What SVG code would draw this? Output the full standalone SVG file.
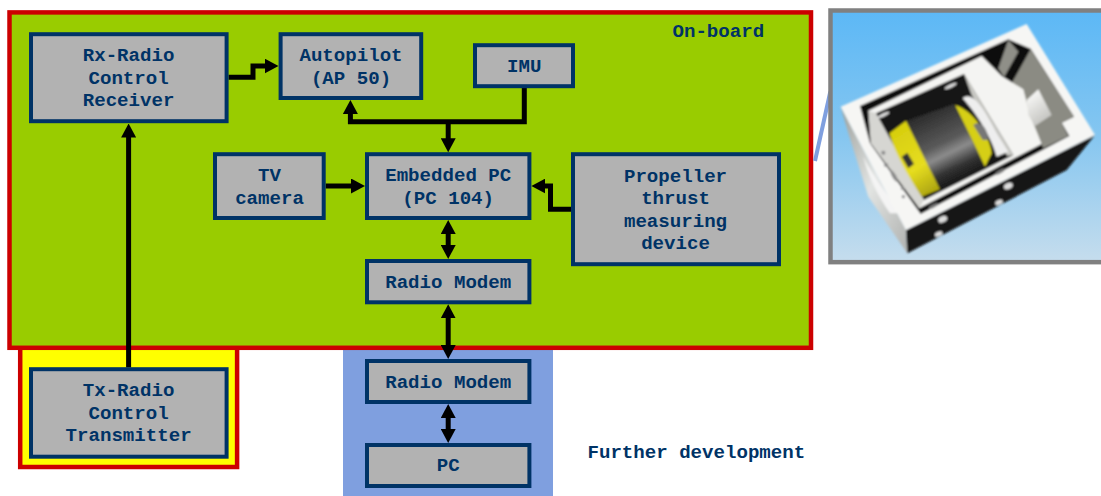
<svg xmlns="http://www.w3.org/2000/svg" width="1101" height="496" viewBox="0 0 1101 496">
<style>
.node{fill:#b2b2b2;stroke:#003366;stroke-width:4}
.zone{stroke:#cc0000;stroke-width:4.5}
.t{font-family:"Liberation Mono","DejaVu Sans Mono",monospace;font-weight:700;font-size:19.1px;fill:#003366;text-anchor:middle}
.l{text-anchor:start}
.c{fill:none;stroke:#000;stroke-width:5}
.hole{fill:#ddd}
</style>
<defs>
<marker id="arrow" markerUnits="userSpaceOnUse" viewBox="0 0 14 15" refX="1" refY="7.5" markerWidth="14" markerHeight="15" orient="auto-start-reverse"><path d="M0 0L14 7.5L0 15z" fill="#000"/></marker>
<linearGradient id="sky" x1="0" y1="0" x2="0" y2="1"><stop offset="0" stop-color="#5cb8f6"/><stop offset=".5" stop-color="#85c6f0"/><stop offset="1" stop-color="#c6dded"/></linearGradient>
<linearGradient id="cyl" gradientUnits="userSpaceOnUse" x1="385" y1="330" x2="490" y2="545"><stop offset="0" stop-color="#2a2a2a"/><stop offset=".45" stop-color="#5a5a5a"/><stop offset=".6" stop-color="#8c8c8c"/><stop offset=".8" stop-color="#333"/><stop offset="1" stop-color="#111"/></linearGradient>
<linearGradient id="yel" gradientUnits="userSpaceOnUse" x1="290" y1="400" x2="400" y2="570"><stop offset="0" stop-color="#d8cf10"/><stop offset=".6" stop-color="#e6dd20"/><stop offset="1" stop-color="#b0a810"/></linearGradient>
<linearGradient id="side" x1="0" y1="0" x2="1" y2="1"><stop offset="0" stop-color="#9a9e9a"/><stop offset=".5" stop-color="#e2e4e2"/><stop offset="1" stop-color="#b0b2b0"/></linearGradient>
<linearGradient id="boss" gradientUnits="userSpaceOnUse" x1="690" y1="290" x2="750" y2="370"><stop offset="0" stop-color="#f4f4f2"/><stop offset="1" stop-color="#bcbcb8"/></linearGradient>
<filter id="soft" x="-5%" y="-5%" width="110%" height="110%"><feGaussianBlur stdDeviation="2.6"/></filter>
<clipPath id="photoClip"><rect x="98" y="38" width="805" height="742"/></clipPath>
</defs>
<rect id="blue-zone" x="343" y="340" width="210" height="156" fill="#7f9fdf"/>
<rect id="yellow-zone" class="zone" x="20.2" y="340" width="216.9" height="127" fill="#ffff00"/>
<rect id="onboard-zone" class="zone" x="9.5" y="12.4" width="801.5" height="335.4" fill="#99cc00"/>
<line id="callout" x1="830.3" y1="91.7" x2="815" y2="161" stroke="#7f9fdf" stroke-width="4"/>
<g id="photo" transform="translate(800 0) scale(.33333)">
<rect x="91.5" y="31.5" width="830" height="755" fill="url(#sky)" stroke="#808080" stroke-width="13.5"/>
<g clip-path="url(#photoClip)"><g filter="url(#soft)">
<path d="M122 320L318 690L322 760L205 590L145 400z" fill="url(#side)"/>
<path d="M190 470C225 540 270 590 300 640L270 640C235 590 205 530 190 470z" fill="#f4f4f4"/>
<path d="M318 690L885 405L800 510L322 760z" fill="#121212"/>
<path d="M122 320L680 72L885 405L318 690z" fill="#f6f6f4"/>
<path d="M180 318L625 118L692 146L822 350L785 368L808 408L362 642L210 430z" fill="#111"/>
<path d="M692 148L822 350L785 368L805 408L730 445L680 340L635 250z" fill="#8b8b83"/>
<path d="M625 120L655 155L612 232L595 205z" fill="#8f8f88"/>
<path d="M205 332L545 168L605 228L670 268L690 345L725 432L358 625z" fill="#f4f4f2"/>
<path d="M205 332L228 340L372 600L358 625L212 430z" fill="#d6d6d2"/>
<path d="M228 340L492 222L640 465L372 600z" fill="#121212"/>
<path d="M492 222L515 285L622 468L640 465z" fill="#c9c9c4"/>
<path d="M488 295C510 275 540 300 590 400L625 455L590 470C570 400 520 330 488 295z" fill="#eee"/>
<path d="M318 362L462 312L555 500L420 570z" fill="url(#cyl)"/>
<path d="M465 315C520 330 570 410 575 460L555 500z" fill="#d6cf15"/>
<path d="M520 375C545 355 565 395 565 420L548 420z" fill="#777"/>
<path d="M268 400L318 362L420 568L365 590C325 530 285 460 268 400z" fill="url(#yel)"/>
<path d="M305 470L322 458L342 492L325 505z" fill="#333"/>
<path d="M680 300L715 268L755 345L705 378L685 345z" fill="url(#boss)"/>
<ellipse class="hole" cx="250" cy="345" rx="20" ry="5" transform="rotate(-25 250 345)"/>
<ellipse class="hole" cx="452" cy="258" rx="20" ry="5" transform="rotate(-25 452 258)"/>
<ellipse cx="250" cy="458" rx="6" ry="6" fill="#888"/>
<ellipse cx="258" cy="495" rx="6" ry="6" fill="#888"/>
<ellipse cx="282" cy="528" rx="6" ry="20" transform="rotate(-30 282 528)" fill="#888"/>
<ellipse cx="308" cy="565" rx="5" ry="5" fill="#888"/>
<ellipse cx="310" cy="590" rx="5" ry="5" fill="#888"/>
<ellipse cx="400" cy="618" rx="16" ry="5" transform="rotate(-28 400 618)" fill="#777"/>
<ellipse cx="600" cy="515" rx="16" ry="5" transform="rotate(-28 600 515)" fill="#777"/>
<ellipse class="hole" cx="428" cy="658" rx="14" ry="9" transform="rotate(-25 428 658)"/>
<ellipse class="hole" cx="416" cy="702" rx="12" ry="7" transform="rotate(-25 416 702)"/>
<ellipse class="hole" cx="625" cy="558" rx="14" ry="9" transform="rotate(-25 625 558)"/>
<ellipse class="hole" cx="597" cy="607" rx="12" ry="7" transform="rotate(-25 597 607)"/>
</g></g>
</g>
<g id="connectors">
<path class="c" marker-end="url(#arrow)" d="M128.6 367.5V136.5"/>
<path class="c" marker-end="url(#arrow)" d="M228.6 77.3H253V66H265.5"/>
<path class="c" marker-end="url(#arrow)" d="M524.3 88V121.7H350.4V113"/>
<path class="c" marker-end="url(#arrow)" d="M448.2 121.7V139.3"/>
<path class="c" marker-end="url(#arrow)" d="M325.7 186H352"/>
<path class="c" marker-end="url(#arrow)" d="M571 209.3H550.5V186H544.4"/>
<path class="c" marker-start="url(#arrow)" marker-end="url(#arrow)" d="M448.2 233V246"/>
<path class="c" marker-start="url(#arrow)" marker-end="url(#arrow)" d="M448.2 317.3V346"/>
<path class="c" marker-start="url(#arrow)" marker-end="url(#arrow)" d="M448.2 417V430"/>
</g>
<g id="rx"><rect class="node" x="31" y="34.2" width="195.6" height="87"/><text class="t" x="128.6" y="61">Rx-Radio</text><text class="t" x="128.6" y="83.5">Control</text><text class="t" x="128.6" y="106">Receiver</text></g>
<g id="autopilot"><rect class="node" x="280.6" y="34.2" width="140.6" height="63.8"/><text class="t" x="351" y="61">Autopilot</text><text class="t" x="351" y="83.5">(AP 50)</text></g>
<g id="imu"><rect class="node" x="475" y="45.2" width="98" height="41"/><text class="t" x="524.3" y="71.5">IMU</text></g>
<g id="tv"><rect class="node" x="215" y="154.2" width="108.7" height="63.8"/><text class="t" x="269.5" y="181">TV</text><text class="t" x="269.5" y="203.5">camera</text></g>
<g id="embedded"><rect class="node" x="367" y="154.2" width="162.4" height="63.8"/><text class="t" x="448.2" y="181">Embedded PC</text><text class="t" x="448.2" y="203.5">(PC 104)</text></g>
<g id="propeller"><rect class="node" x="573" y="154.2" width="206" height="110"/><text class="t" x="675.5" y="181.7">Propeller</text><text class="t" x="675.5" y="203.5">thrust</text><text class="t" x="675.5" y="226.5">measuring</text><text class="t" x="675.5" y="249">device</text></g>
<g id="modem1"><rect class="node" x="367" y="261" width="162.4" height="41.3"/><text class="t" x="448.2" y="287.7">Radio Modem</text></g>
<g id="modem2"><rect class="node" x="367" y="361" width="162.4" height="41"/><text class="t" x="448.2" y="387.7">Radio Modem</text></g>
<g id="pc"><rect class="node" x="367" y="445" width="162.4" height="41"/><text class="t" x="448.2" y="470.7">PC</text></g>
<g id="tx"><rect class="node" x="31" y="369.2" width="195.6" height="87.5"/><text class="t" x="128.6" y="396">Tx-Radio</text><text class="t" x="128.6" y="418.5">Control</text><text class="t" x="128.6" y="441">Transmitter</text></g>
<text class="t l" x="672.5" y="36.7">On-board</text>
<text class="t l" x="587.5" y="457.7">Further development</text>
</svg>
